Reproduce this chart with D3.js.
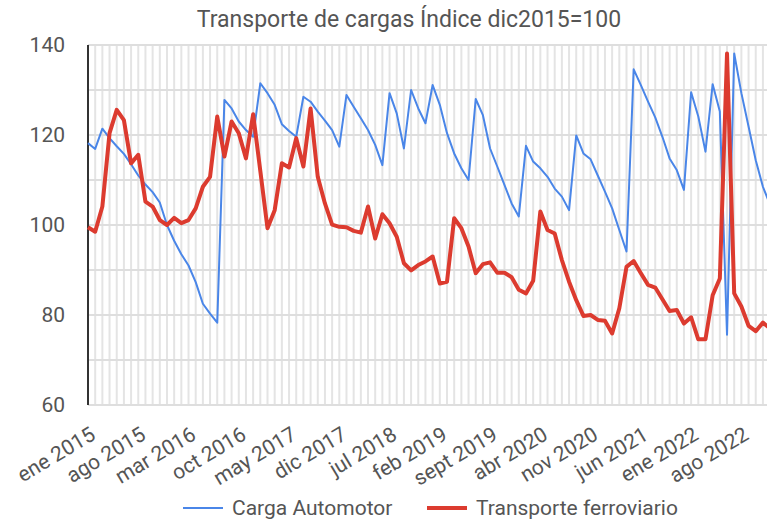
<!DOCTYPE html>
<html>
<head>
<meta charset="utf-8">
<script src="https://cdn.jsdelivr.net/npm/d3@7"></script>
<style>
  body { margin: 0; background: #fff; }
  svg { display: block; font-family: Roboto, "Noto Sans", sans-serif; }
</style>
</head>
<body>
<div id="chart"></div>
<script>
// Monthly index (dic2015 = 100), starting ene 2015
const cargaAutomotor = [
  118.2, 116.9, 121.4, 119.3, 117.5, 115.8, 113.5, 111.0, 109.0, 107.3, 105.0, 100.0,
  96.5, 93.5, 91.0, 87.3, 82.5, 80.3, 78.3, 127.8, 125.9, 123.0, 121.1, 119.6,
  131.5, 129.3, 126.7, 122.4, 120.9, 119.6, 128.5, 127.4, 125.2, 123.2, 121.1, 117.4,
  128.9, 126.3, 123.7, 121.1, 117.8, 113.3, 129.3, 124.8, 117.0, 130.0, 125.9, 122.6,
  131.1, 126.7, 120.4, 115.9, 112.6, 110.0, 128.0, 124.4, 117.0, 113.0, 108.9, 104.8,
  101.9, 117.6, 114.1, 112.6, 110.7, 108.1, 106.3, 103.3, 119.9, 115.9, 114.6, 111.0,
  107.4, 103.7, 98.9, 94.1, 134.6, 131.1, 127.4, 123.9, 119.6, 114.8, 112.2, 107.8,
  129.5, 124.1, 116.3, 131.3, 125.2, 75.6, 138.1, 129.3, 121.9, 114.4, 108.5, 104.5
];
const transporteFerroviario = [
  99.5, 98.5, 104.1, 120.4, 125.6, 123.3, 113.7, 115.6, 105.2, 104.1, 101.1, 100.0,
  101.6, 100.4, 101.1, 103.7, 108.5, 110.7, 124.1, 115.2, 123.0, 120.4, 114.8, 124.6,
  112.0, 99.3, 103.3, 113.7, 112.8, 119.3, 113.0, 125.9, 110.7, 104.8, 100.1, 99.6,
  99.5, 98.7, 98.3, 104.1, 97.0, 102.4, 100.4, 97.4, 91.5, 89.9, 91.1, 91.9,
  93.0, 87.0, 87.4, 101.5, 99.3, 95.2, 89.3, 91.3, 91.7, 89.4, 89.4, 88.4,
  85.6, 84.8, 87.6, 103.0, 98.9, 98.1, 92.2, 87.4, 83.3, 79.8, 80.0, 78.9,
  78.7, 75.9, 81.5, 90.7, 92.0, 89.3, 86.7, 86.1, 83.5, 80.9, 81.1, 78.1,
  79.5, 74.6, 74.6, 84.4, 88.1, 138.1, 84.8, 81.9, 77.6, 76.4, 78.3, 77.0
];
const tickLabels = ["ene 2015", "ago 2015", "mar 2016", "oct 2016", "may 2017", "dic 2017",
  "jul 2018", "feb 2019", "sept 2019", "abr 2020", "nov 2020", "jun 2021", "ene 2022", "ago 2022"];
const tickStep = 7;
const yTicks = [60, 80, 100, 120, 140];
const seriesNames = ["Carga Automotor", "Transporte ferroviario"];

const width = 767, height = 523;
const plotLeft = 88, plotTop = 45, plotBottom = 405, monthW = 7.18;

const svg = d3.select("#chart").append("svg")
  .attr("width", width).attr("height", height);

const x = d3.scaleLinear().domain([0, 100]).range([plotLeft, plotLeft + monthW * 100]);
const y = d3.scaleLinear().domain([60, 140]).range([plotBottom, plotTop]);

// vertical month gridlines
svg.append("g").selectAll("line")
  .data(d3.range(1, 101))
  .join("line")
  .attr("x1", d => x(d)).attr("x2", d => x(d))
  .attr("y1", plotTop).attr("y2", plotBottom)
  .attr("stroke", "#e4e4e4").attr("stroke-width", 2);

// horizontal gridlines
svg.append("g").selectAll("line")
  .data(d3.range(60, 141, 10))
  .join("line")
  .attr("x1", plotLeft).attr("x2", width)
  .attr("y1", d => y(d)).attr("y2", d => y(d))
  .attr("stroke", "#dedede").attr("stroke-width", 2);

// y labels
const yAxis = svg.append("g")
  .attr("transform", `translate(${plotLeft - 23},0)`)
  .call(d3.axisLeft(y).tickValues(yTicks).tickSize(0).tickPadding(0));
yAxis.select(".domain").remove();
yAxis.selectAll("text")
  .attr("font-size", 21).attr("fill", "#555")
  .attr("font-family", "Roboto, sans-serif");

// left axis line
svg.append("line")
  .attr("x1", plotLeft).attr("x2", plotLeft).attr("y1", plotTop).attr("y2", plotBottom)
  .attr("stroke", "#333").attr("stroke-width", 2);

// x labels
svg.append("g").selectAll("text")
  .data(tickLabels)
  .join("text")
  .attr("transform", (d, i) => `translate(${x(i * tickStep) + 5},${plotBottom + 27}) rotate(-31)`)
  .attr("text-anchor", "end")
  .attr("dy", "0.35em")
  .attr("font-size", 21)
  .attr("fill", "#555")
  .text(d => d);

const line = d3.line().x((d, i) => x(i)).y(d => y(d));

svg.append("path")
  .datum(cargaAutomotor)
  .attr("d", line)
  .attr("fill", "none")
  .attr("stroke", "#4a86e8")
  .attr("stroke-width", 2)
  .attr("stroke-linejoin", "round");

svg.append("path")
  .datum(transporteFerroviario)
  .attr("d", line)
  .attr("fill", "none")
  .attr("stroke", "#dc3b2f")
  .attr("stroke-width", 4)
  .attr("stroke-linejoin", "round");

// title
svg.append("text")
  .attr("x", 409).attr("y", 27)
  .attr("text-anchor", "middle")
  .attr("font-size", 23)
  .attr("fill", "#555")
  .text("Transporte de cargas Índice dic2015=100");

// legend
const legend = [
  { name: seriesNames[0], color: "#4a86e8", w: 2, x: 183 },
  { name: seriesNames[1], color: "#dc3b2f", w: 4, x: 427 }
];
const lg = svg.append("g").selectAll("g").data(legend).join("g")
  .attr("transform", d => `translate(${d.x},508)`);
lg.append("line")
  .attr("x1", 0).attr("x2", 40)
  .attr("stroke", d => d.color).attr("stroke-width", d => d.w);
lg.append("text")
  .attr("x", 49).attr("dy", "0.35em")
  .attr("font-size", 21).attr("fill", "#555")
  .text(d => d.name);
</script>
</body>
</html>
